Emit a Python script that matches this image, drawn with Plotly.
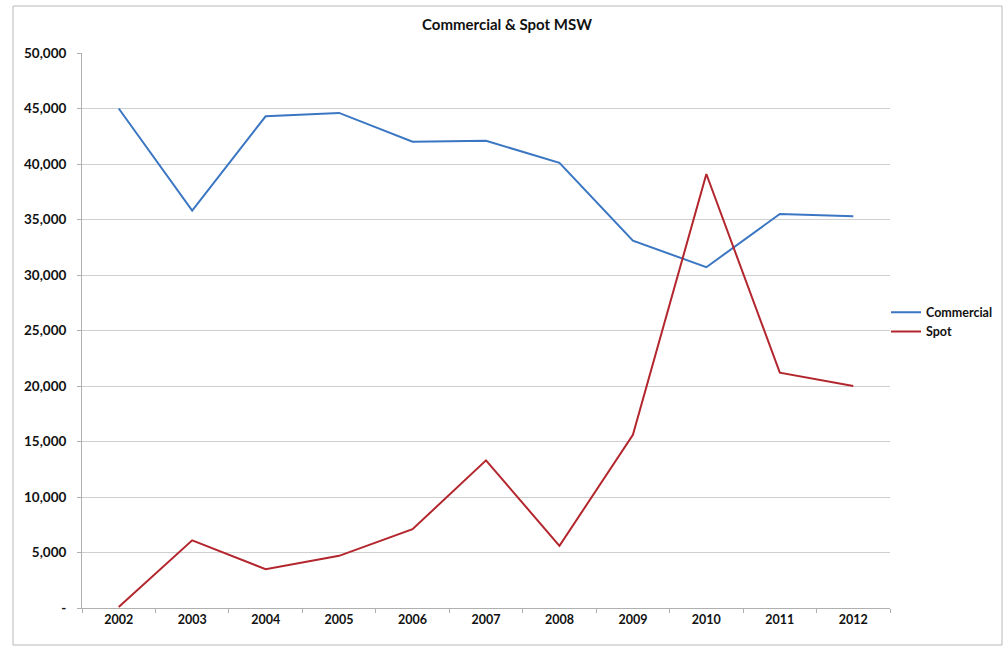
import plotly.graph_objects as go

years = ["2002", "2003", "2004", "2005", "2006", "2007", "2008", "2009", "2010", "2011", "2012"]
commercial = [45000, 35800, 44300, 44600, 42000, 42100, 40100, 33100, 30700, 35500, 35300]
spot = [100, 6100, 3500, 4700, 7100, 13300, 5600, 15600, 39100, 21200, 20000]

y_tickvals = [0, 5000, 10000, 15000, 20000, 25000, 30000, 35000, 40000, 45000, 50000]
y_ticktext = ["-", "5,000", "10,000", "15,000", "20,000", "25,000", "30,000",
              "35,000", "40,000", "45,000", "50,000"]

FONT = "Lato, 'Open Sans', Arial, sans-serif"

fig = go.Figure()
fig.add_trace(go.Scatter(x=years, y=commercial, mode="lines", name="Commercial",
                         line=dict(color="#3a76c2", width=2)))
fig.add_trace(go.Scatter(x=years, y=spot, mode="lines", name="Spot",
                         line=dict(color="#b3262d", width=2)))

L, R, T, B = 82, 118, 53, 42
W, H = 1008, 650
pw, ph = W - L - R, H - T - B

def px(x):
    return (x - L) / pw

def py(y):
    return (H - B - y) / ph

fig.update_layout(
    width=W, height=H,
    margin=dict(l=L, r=R, t=T, b=B, autoexpand=False),
    paper_bgcolor="white", plot_bgcolor="white",
    font=dict(family=FONT, size=12, color="#111111"),
    title=dict(text="<b>Commercial & Spot MSW</b>", x=507 / W, xanchor="center",
               y=1 - 25 / H, yanchor="middle", font=dict(size=15, family=FONT)),
    showlegend=True,
    legend=dict(x=px(886), xanchor="left", y=py(322), yanchor="middle",
                font=dict(size=12.5, family=FONT, weight="bold"), itemwidth=30,
                tracegroupgap=0, bgcolor="rgba(0,0,0,0)"),
    xaxis=dict(type="category", showgrid=False, showline=True, linecolor="#b0b0b0",
               linewidth=1, ticks="outside", tickson="boundaries", ticklen=4,
               tickcolor="#b0b0b0", tickfont=dict(size=12.5, family=FONT, weight="bold"),
               range=[-0.5, 10.5], fixedrange=True),
    yaxis=dict(range=[0, 50000], tickvals=y_tickvals, ticktext=y_ticktext,
               showgrid=True, gridcolor="#cfcfcf", gridwidth=1, showline=True,
               linecolor="#b0b0b0", linewidth=1, ticks="outside", ticklen=4,
               tickcolor="#b0b0b0", zeroline=False,
               tickfont=dict(size=13.5, family=FONT, weight="bold"), ticklabelstandoff=8),
    shapes=[dict(type="rect", xref="paper", yref="paper",
                 x0=px(13), x1=px(1002), y0=py(645), y1=py(6),
                 line=dict(color="#b8b8b8", width=1), fillcolor="rgba(0,0,0,0)",
                 layer="below")],
)

fig.write_html("out.html")
